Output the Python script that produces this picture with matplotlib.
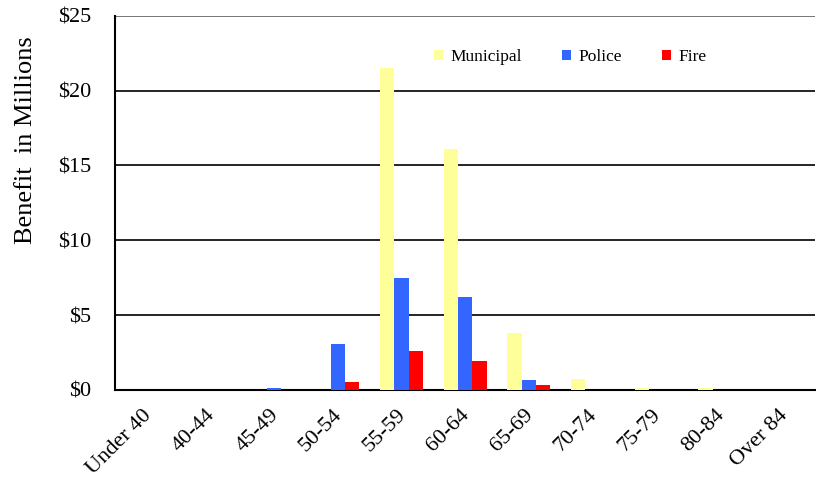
import matplotlib
matplotlib.use("Agg")
import matplotlib.pyplot as plt
import matplotlib.transforms as mtransforms
import numpy as np

categories = ["Under 40", "40-44", "45-49", "50-54", "55-59", "60-64",
              "65-69", "70-74", "75-79", "80-84", "Over 84"]
municipal = [0, 0, 0, 0, 21.5, 16.1, 3.8, 0.75, 0.12, 0.12, 0]
police = [0, 0, 0.12, 3.1, 7.5, 6.2, 0.65, 0, 0, 0, 0]
fire = [0, 0, 0, 0.55, 2.6, 1.9, 0.32, 0, 0, 0, 0]
yticks = [0, 5, 10, 15, 20, 25]
ytick_labels = ["$0", "$5", "$10", "$15", "$20", "$25"]

plt.rcParams['font.family'] = ['Liberation Serif', 'DejaVu Serif']

fig = plt.figure(figsize=(8.16, 4.79), dpi=100)
ax = fig.add_axes([0.141, 0.186, 0.858, 0.781])

x = np.arange(len(categories))
w = 0.225
ax.bar(x - w, municipal, w, color="#FFFF99", label="Municipal", zorder=3)
ax.bar(x, police, w, color="#3366FF", label="Police", zorder=3)
ax.bar(x + w, fire, w, color="#FF0000", label="Fire", zorder=3)

ax.set_xlim(-0.5, len(categories) - 0.5)
ax.set_ylim(0, 25)
ax.set_yticks(yticks)
ax.set_yticklabels(ytick_labels, fontsize=16)
ax.yaxis.grid(True, color="black", linewidth=1.2, zorder=0)
ax.set_axisbelow(True)
ax.set_xticks(x)
ax.set_xticklabels(categories, rotation=45, ha="right", rotation_mode="anchor", fontsize=16)
ax.tick_params(axis="x", length=0, pad=11.5)
ax.tick_params(axis="y", length=0, pad=17)
shift = mtransforms.ScaledTranslation(-0.05, 0, fig.dpi_scale_trans)
for lbl in ax.get_xticklabels():
    lbl.set_transform(lbl.get_transform() + shift)
for s in ["top", "right"]:
    ax.spines[s].set_visible(False)
ax.spines["left"].set_linewidth(1.5)
ax.spines["bottom"].set_linewidth(1.5)
ax.axhline(25, color="#888888", linewidth=1.2)
ax.set_ylabel("Benefit  in Millions", fontsize=19)
ax.yaxis.set_label_coords(-0.111, 0.668)

ax.legend(loc="center", bbox_to_anchor=(0.65, 0.89), ncol=3, frameon=False,
          fontsize=12.5, handlelength=0.55, handleheight=0.55, handletextpad=0.4,
          columnspacing=2.3)

fig.savefig("out.png", dpi=100)
